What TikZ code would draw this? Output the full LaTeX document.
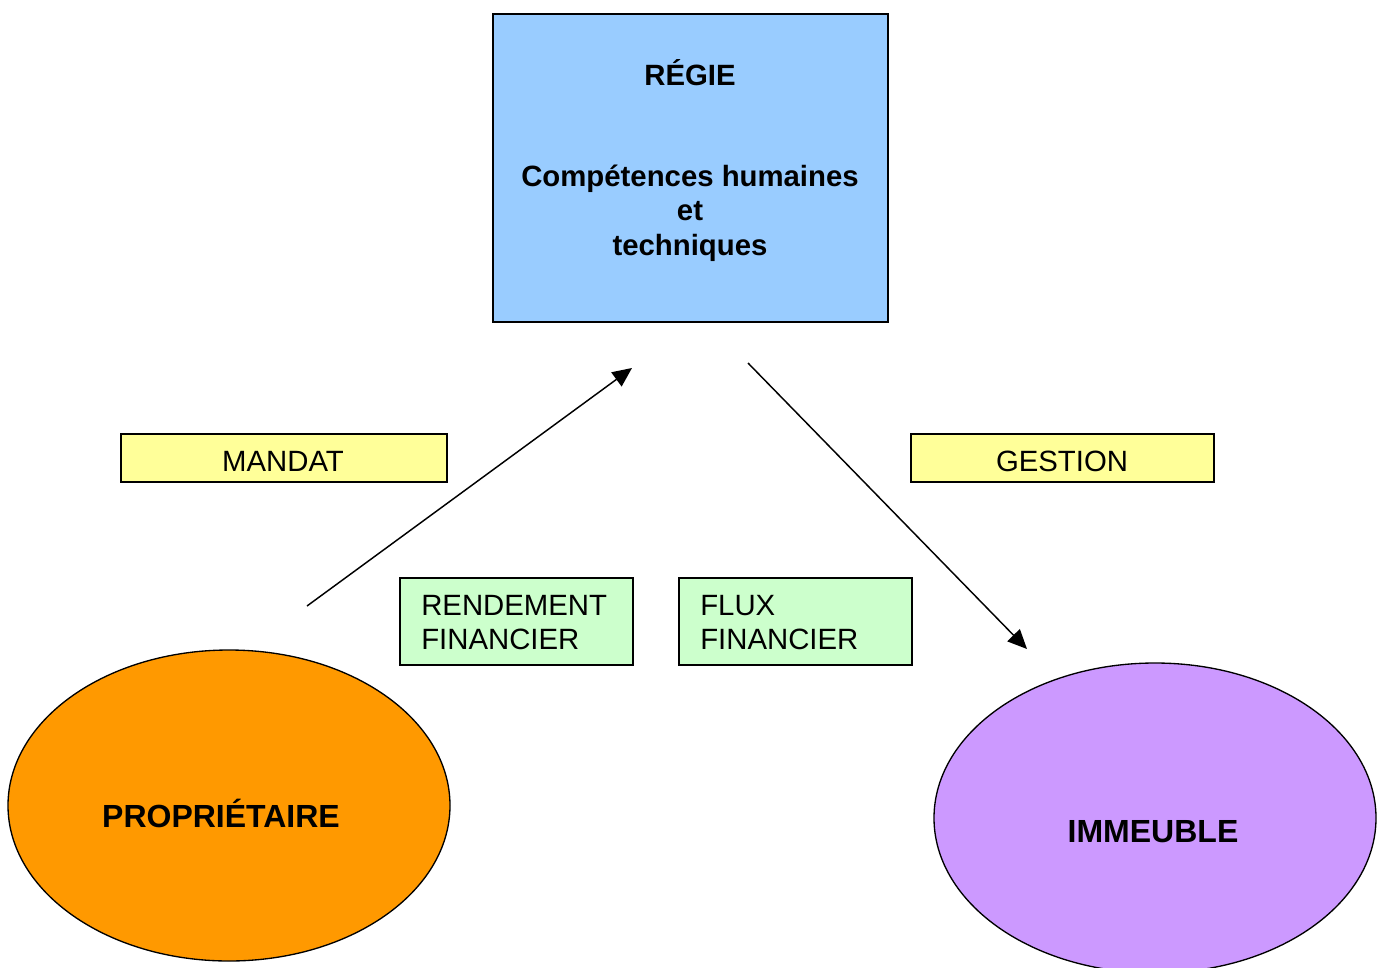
\documentclass[tikz,border=0pt]{standalone}
\usepackage{fontspec}
\setmainfont{Liberation Sans}
\usetikzlibrary{arrows.meta,shapes.geometric}
\definecolor{regieblue}{HTML}{99CCFF}
\definecolor{labelyellow}{HTML}{FFFF99}
\definecolor{labelgreen}{HTML}{CCFFCC}
\definecolor{propor}{HTML}{FF9900}
\definecolor{immviolet}{HTML}{CC99FF}
\tikzset{
  boxline/.style={draw=black, line width=1pt, inner sep=0pt},
  txt/.style={inner sep=0pt, font=\fontsize{22}{26}\selectfont},
  btxt/.style={inner sep=0pt, font=\fontsize{22}{26}\selectfont\bfseries},
  bigtxt/.style={inner sep=0pt, font=\fontsize{24}{28}\selectfont\bfseries},
  arr/.style={line width=1.1pt, -{Triangle[length=14.5pt,width=13pt]}},
}
\begin{document}
\begin{tikzpicture}[x=0.75pt,y=-0.75pt]
\useasboundingbox (0,0) rectangle (1384,967);
% RÉGIE box
\node[boxline, fill=regieblue, minimum width=296.25pt, minimum height=231pt] (regie) at (690.5,168) {};
\node[btxt, anchor=base] (regiet) at (690,85) {RÉGIE};
\node[btxt, anchor=base] (comp1) at (690,186) {Compétences humaines};
\node[btxt, anchor=base] (comp2) at (690,220) {et};
\node[btxt, anchor=base] (comp3) at (690,255) {techniques};
% yellow labels
\node[boxline, fill=labelyellow, minimum width=244.5pt, minimum height=36pt] (mandat) at (284,458) {};
\node[txt, anchor=base] (mandatt) at (283,471) {MANDAT};
\node[boxline, fill=labelyellow, minimum width=227.25pt, minimum height=36pt] (gestion) at (1062.5,458) {};
\node[txt, anchor=base] (gestiont) at (1062,471) {GESTION};
% green labels
\node[boxline, fill=labelgreen, minimum width=174.75pt, minimum height=65.25pt] (rend) at (516.5,621.5) {};
\node[txt, anchor=base west] (rend1) at (421,615) {RENDEMENT};
\node[txt, anchor=base west] (rend2) at (421,649) {FINANCIER};
\node[boxline, fill=labelgreen, minimum width=174.75pt, minimum height=65.25pt] (flux) at (795.5,621.5) {};
\node[txt, anchor=base west] (flux1) at (700,615) {FLUX};
\node[txt, anchor=base west] (flux2) at (700,649) {FINANCIER};
% ellipses
\node[boxline, ellipse, fill=propor, minimum width=331.5pt, minimum height=233.25pt] (prop) at (229,805.5) {};
\node[bigtxt] (propt) at (221,813) {PROPRIÉTAIRE};
\node[boxline, ellipse, fill=immviolet, minimum width=331.5pt, minimum height=232.5pt] (imm) at (1155,818) {};
\node[bigtxt] (immt) at (1153,832) {IMMEUBLE};
% arrows
\coordinate (a1s) at (307,606);
\coordinate (a1e) at (632,368);
\coordinate (a2s) at (748,363);
\coordinate (a2e) at (1027,649);
\draw[arr] (a1s) -- (a1e);
\draw[arr] (a2s) -- (a2e);
\end{tikzpicture}
\end{document}
